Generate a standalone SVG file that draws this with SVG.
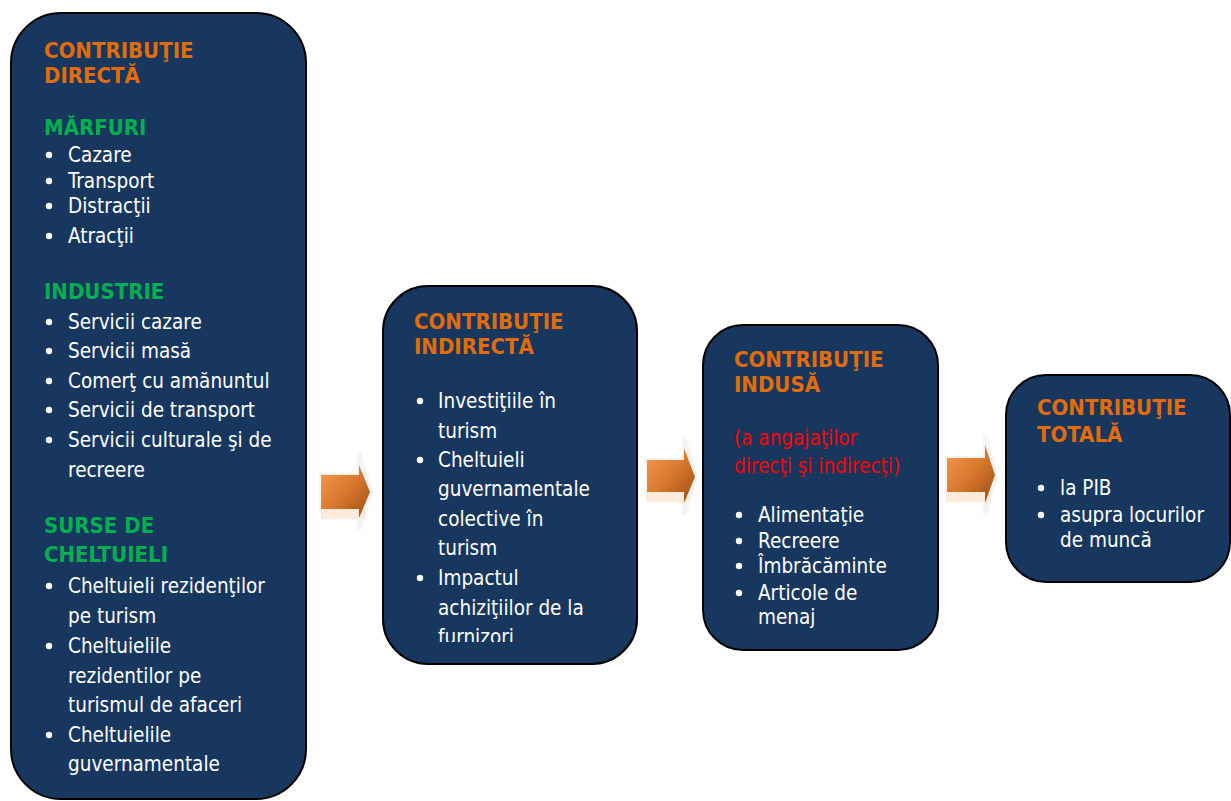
<svg xmlns="http://www.w3.org/2000/svg" width="1231" height="801" viewBox="0 0 1231 801">
<style>
.box{fill:#17375E;stroke:#000;stroke-width:2}
text{font-family:"DejaVu Sans Condensed","DejaVu Sans",sans-serif;font-stretch:condensed;font-size:20.5px}
.h{fill:#E36C0A;font-weight:bold;font-size:22px}
.g{fill:#00B050;font-weight:bold;font-size:22px}
.t{fill:#FFFFFF}
.r{fill:#FF0000}
.b{fill:#FFFFFF}
.halo{fill:#F4F4F4;stroke:#F4F4F4;stroke-width:4;stroke-linejoin:miter}
.shadow{fill:#FDEADB}
.arr{fill:url(#og)}
</style>
<defs>
<linearGradient id="og" x1="0" y1="0" x2="1" y2="1">
<stop offset="0" stop-color="#F79A4E"/>
<stop offset="0.5" stop-color="#D9782F"/>
<stop offset="1" stop-color="#9A4B12"/>
</linearGradient>
<clipPath id="c2"><rect x="383" y="286" width="254" height="356"/></clipPath>
</defs>

<g id="connectors">
<g id="arrow1">
<polygon class="halo" points="321,475 359,475 359,452 371,492 359,530 359,509 321,509"/>
<rect class="shadow" x="321" y="509" width="44" height="10"/>
<polygon class="arr" points="321,475 359,475 359,465 370,492 359,518 359,509 321,509"/>
</g>
<g id="arrow2">
<polygon class="halo" points="647,460 684,460 684,437 696,477 684,515 684,492 647,492"/>
<rect class="shadow" x="646" y="492" width="43" height="10"/>
<polygon class="arr" points="647,460 684,460 684,448 695,477 684,503 684,492 647,492"/>
</g>
<g id="arrow3">
<polygon class="halo" points="947,458 985,458 985,435 996,475 985,515 985,492 947,492"/>
<rect class="shadow" x="946" y="492" width="44" height="10"/>
<polygon class="arr" points="947,458 985,458 985,445 995,475 985,503 985,492 947,492"/>
</g>
</g>

<g id="node-directa">
<rect class="box" x="11" y="13" width="295" height="786" rx="50" ry="50"/>
<text class="h" x="44" y="58">CONTRIBUŢIE</text>
<text class="h" x="44" y="83">DIRECTĂ</text>
<text class="g" x="44" y="135">MĂRFURI</text>
<circle class="b" cx="49" cy="155" r="3.2"/><text class="t" x="68" y="162">Cazare</text>
<circle class="b" cx="49" cy="181" r="3.2"/><text class="t" x="68" y="188">Transport</text>
<circle class="b" cx="49" cy="206" r="3.2"/><text class="t" x="68" y="213">Distracţii</text>
<circle class="b" cx="49" cy="236" r="3.2"/><text class="t" x="68" y="243">Atracţii</text>
<text class="g" x="44" y="299">INDUSTRIE</text>
<circle class="b" cx="49" cy="322" r="3.2"/><text class="t" x="68" y="329">Servicii cazare</text>
<circle class="b" cx="49" cy="351" r="3.2"/><text class="t" x="68" y="358">Servicii masă</text>
<circle class="b" cx="49" cy="381" r="3.2"/><text class="t" x="68" y="388">Comerţ cu amănuntul</text>
<circle class="b" cx="49" cy="410" r="3.2"/><text class="t" x="68" y="417">Servicii de transport</text>
<circle class="b" cx="49" cy="440" r="3.2"/><text class="t" x="68" y="447">Servicii culturale şi de</text>
<text class="t" x="68" y="477">recreere</text>
<text class="g" x="44" y="533">SURSE DE</text>
<text class="g" x="44" y="562">CHELTUIELI</text>
<circle class="b" cx="49" cy="586" r="3.2"/><text class="t" x="68" y="593">Cheltuieli rezidenţilor</text>
<text class="t" x="68" y="623">pe turism</text>
<circle class="b" cx="49" cy="646" r="3.2"/><text class="t" x="68" y="653">Cheltuielile</text>
<text class="t" x="68" y="683">rezidentilor pe</text>
<text class="t" x="68" y="712">turismul de afaceri</text>
<circle class="b" cx="49" cy="735" r="3.2"/><text class="t" x="68" y="742">Cheltuielile</text>
<text class="t" x="68" y="771">guvernamentale</text>
</g>

<g id="node-indirecta">
<rect class="box" x="383" y="286" width="254" height="378" rx="45" ry="45"/>
<text class="h" x="414" y="329">CONTRIBUŢIE</text>
<text class="h" x="414" y="354">INDIRECTĂ</text>
<g clip-path="url(#c2)">
<circle class="b" cx="420" cy="401" r="3.2"/><text class="t" x="438" y="408">Investiţiile în</text>
<text class="t" x="438" y="437.5">turism</text>
<circle class="b" cx="420" cy="460" r="3.2"/><text class="t" x="438" y="467">Cheltuieli</text>
<text class="t" x="438" y="496">guvernamentale</text>
<text class="t" x="438" y="525.5">colective în</text>
<text class="t" x="438" y="555">turism</text>
<circle class="b" cx="420" cy="578" r="3.2"/><text class="t" x="438" y="585">Impactul</text>
<text class="t" x="438" y="614.5">achiziţiilor de la</text>
<text class="t" x="438" y="644">furnizori</text>
</g>
</g>

<g id="node-indusa">
<rect class="box" x="703" y="325" width="235" height="325" rx="40" ry="40"/>
<text class="h" x="734" y="367">CONTRIBUŢIE</text>
<text class="h" x="734" y="392">INDUSĂ</text>
<text class="r" x="734" y="445">(a angajaţilor</text>
<text class="r" x="734" y="473">direcţi şi indirecţi)</text>
<circle class="b" cx="739" cy="515" r="3.2"/><text class="t" x="758" y="522">Alimentaţie</text>
<circle class="b" cx="739" cy="541" r="3.2"/><text class="t" x="758" y="548">Recreere</text>
<circle class="b" cx="739" cy="566" r="3.2"/><text class="t" x="758" y="573">Îmbrăcăminte</text>
<circle class="b" cx="739" cy="593" r="3.2"/><text class="t" x="758" y="600">Articole de</text>
<text class="t" x="758" y="624">menaj</text>
</g>

<g id="node-totala">
<rect class="box" x="1006" y="375" width="224" height="207" rx="40" ry="40"/>
<text class="h" x="1037" y="415">CONTRIBUŢIE</text>
<text class="h" x="1037" y="442">TOTALĂ</text>
<circle class="b" cx="1041" cy="488" r="3.2"/><text class="t" x="1060" y="495">la PIB</text>
<circle class="b" cx="1041" cy="515" r="3.2"/><text class="t" x="1060" y="522">asupra locurilor</text>
<text class="t" x="1060" y="547">de muncă</text>
</g>
</svg>
